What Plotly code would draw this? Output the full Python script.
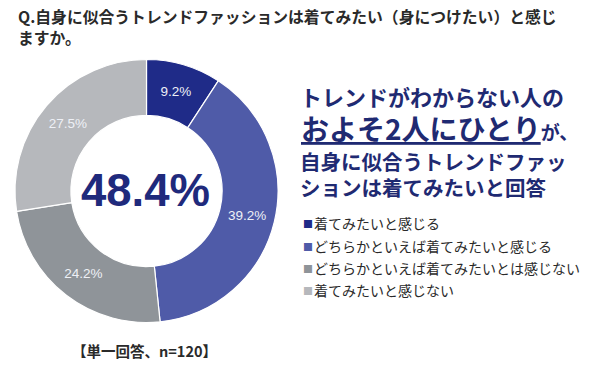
import plotly.graph_objects as go

categories = ["着てみたいと感じる", "どちらかといえば着てみたいと感じる",
              "どちらかといえば着てみたいとは感じない", "着てみたいと感じない"]
values = [9.2, 39.2, 24.2, 27.5]
colors = ["#1f2b88", "#4f5ba8", "#8f9499", "#b6b8bc"]
center_value = "48.4%"
title_lines = ["Q.自身に似合うトレンドファッションは着てみたい（身につけたい）と感じ", "ますか。"]
note = "【単一回答、n=120】"

W, H = 600, 372
JP = "Noto Sans CJK JP"
NAVY = "#1f2a72"

fig = go.Figure()
fig.add_trace(go.Pie(
    labels=categories, values=values, sort=False, direction="clockwise", rotation=0,
    hole=0.575, marker=dict(colors=colors, line=dict(color="white", width=1.2)),
    texttemplate="%{value:.1f}%", textposition="inside", insidetextorientation="horizontal",
    textfont=dict(family="Liberation Sans", size=13.5, color="#eef0f6"),
    domain=dict(x=[15 / W, 278 / W], y=[(H - 323) / H, (H - 59) / H]),
    showlegend=False, hoverinfo="skip",
))

def px(x, y):
    return x / W, 1 - y / H

ann = []
def add(text, x, y, size, color, xanchor="left", family=JP):
    ax, ay = px(x, y)
    ann.append(dict(text=text, x=ax, y=ay, xref="paper", yref="paper", xanchor=xanchor,
                    yanchor="middle", showarrow=False, align="left",
                    font=dict(family=family, size=size, color=color)))

add("<b>" + "<br>".join(title_lines) + "</b>", 16, 26.5, 15.8, "#2a2a2a")

add("<b>" + center_value + "</b>", 145, 190, 45.5, "#1f2a7c", xanchor="center", family="Liberation Sans")

add("<b>トレンドがわからない人の</b>", 298, 96, 22, NAVY)
add("<b><u>およそ2人にひとり</u><span style='font-size:19px'>が、</span></b>", 299, 128, 28, NAVY)
add("<b>自身に似合うトレンドファッ</b>", 298, 161, 20.5, NAVY)
add("<b>ションは着てみたいと回答</b>", 298, 187, 20.5, NAVY)

ys = [223, 246, 268, 290]
for cat, col, y in zip(categories, colors, ys):
    add("■", 301, y, 10, col)
    add(cat, 312, y, 14, "#2a2a2a")

add("<b>" + note + "</b>", 144, 350, 14.5, "#2a2a2a", xanchor="center")

fig.update_layout(
    width=W, height=H, margin=dict(l=0, r=0, t=0, b=0),
    paper_bgcolor="white", plot_bgcolor="white", annotations=ann,
)
fig.write_html("out.html", config={"displayModeBar": False},
               post_script="document.body.style.margin='0';")
